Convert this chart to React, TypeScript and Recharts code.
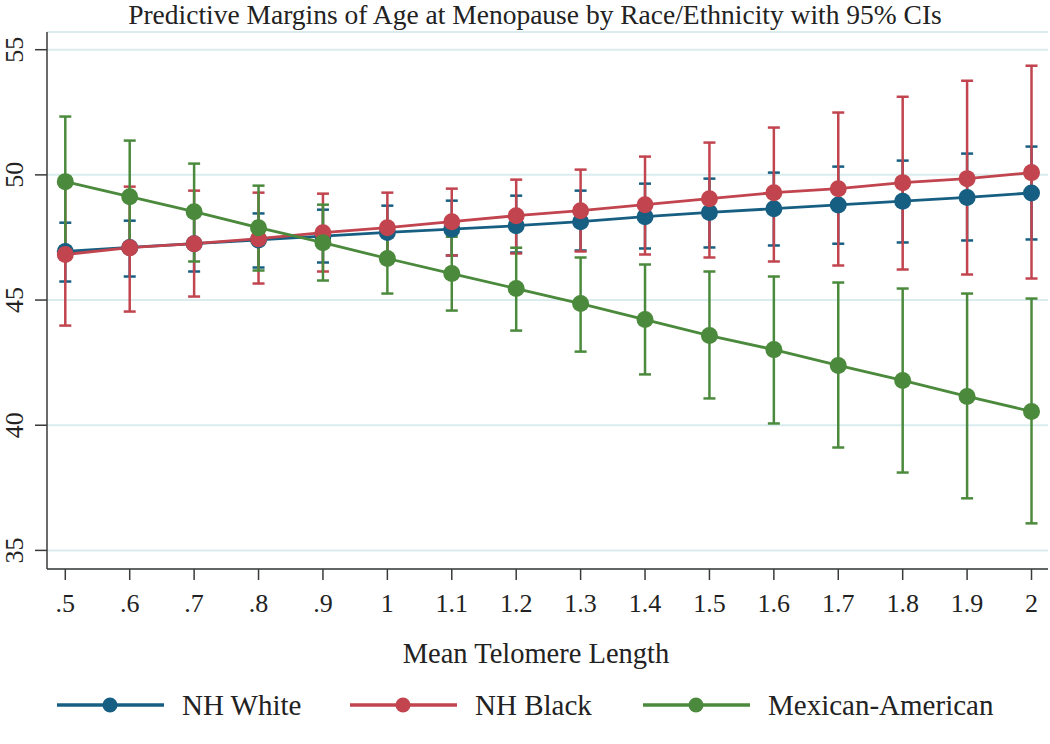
import React from "react";
import { ComposedChart, Line, XAxis, YAxis, CartesianGrid, ErrorBar } from "recharts";

const telomere = [0.5, 0.6, 0.7, 0.8, 0.9, 1.0, 1.1, 1.2, 1.3, 1.4, 1.5, 1.6, 1.7, 1.8, 1.9, 2.0];
const ageTicks = [35, 40, 45, 50, 55];

const whiteMargin = [46.94, 47.1, 47.25, 47.4, 47.55, 47.7, 47.83, 47.97, 48.13, 48.33, 48.5, 48.65, 48.8, 48.95, 49.1, 49.28];
const whiteLower = [45.74, 45.94, 46.14, 46.3, 46.5, 46.63, 46.78, 46.9, 46.98, 47.06, 47.1, 47.18, 47.25, 47.3, 47.38, 47.42];
const whiteUpper = [48.09, 48.17, 48.33, 48.46, 48.61, 48.77, 48.97, 49.17, 49.37, 49.65, 49.85, 50.09, 50.33, 50.57, 50.85, 51.13];

const blackMargin = [46.82, 47.09, 47.25, 47.45, 47.69, 47.89, 48.13, 48.37, 48.57, 48.81, 49.05, 49.29, 49.45, 49.69, 49.85, 50.09];
const blackLower = [43.98, 44.54, 45.14, 45.66, 46.14, 46.49, 46.78, 46.86, 46.94, 46.82, 46.7, 46.54, 46.38, 46.22, 46.02, 45.86];
const blackUpper = [49.66, 49.53, 49.37, 49.29, 49.25, 49.29, 49.45, 49.81, 50.21, 50.73, 51.29, 51.89, 52.49, 53.12, 53.76, 54.36];

const mexMargin = [49.73, 49.13, 48.53, 47.89, 47.29, 46.66, 46.06, 45.46, 44.86, 44.22, 43.58, 43.02, 42.39, 41.79, 41.15, 40.55];
const mexLower = [47.13, 46.89, 46.54, 46.18, 45.78, 45.26, 44.58, 43.78, 42.94, 42.03, 41.07, 40.07, 39.11, 38.11, 37.08, 36.08];
const mexUpper = [52.33, 51.37, 50.45, 49.57, 48.81, 48.06, 47.53, 47.09, 46.7, 46.42, 46.14, 45.94, 45.7, 45.46, 45.26, 45.06];

const seriesNames = ["NH White", "NH Black", "Mexican-American"];
const colors = ["#175f82", "#c1444e", "#4b8a3c"];

const data = telomere.map((t, i) => ({
  t,
  white: whiteMargin[i],
  whiteErr: [whiteMargin[i] - whiteLower[i], whiteUpper[i] - whiteMargin[i]],
  black: blackMargin[i],
  blackErr: [blackMargin[i] - blackLower[i], blackUpper[i] - blackMargin[i]],
  mex: mexMargin[i],
  mexErr: [mexMargin[i] - mexLower[i], mexUpper[i] - mexMargin[i]],
}));

const font = "'Liberation Serif', 'Times New Roman', serif";

const fmtX = (v: number) => {
  const s = v.toFixed(1);
  if (s.endsWith(".0")) return s.slice(0, -2);
  return s.startsWith("0") ? s.slice(1) : s;
};

const XTick = (props: any) => {
  const { x, payload } = props;
  return (
    <text x={x} y={612} textAnchor="middle" fontSize={26} fontFamily={font} fill="#222">
      {fmtX(payload.value)}
    </text>
  );
};

const YTick = (props: any) => {
  const { y, payload } = props;
  return (
    <text x={23} y={y} textAnchor="middle" fontSize={26} fontFamily={font} fill="#222" transform={`rotate(-90, 23, ${y})`}>
      {payload.value}
    </text>
  );
};

const legendX = [57, 350, 643];

export default function App() {
  const keys = ["white", "black", "mex"];
  return (
    <div style={{ position: "absolute", left: 0, top: 0, width: 1050, height: 744, background: "#fff" }}>
      <ComposedChart width={1050} height={744} data={data} margin={{ top: 32, right: 2, bottom: 145, left: 0 }}>
        <CartesianGrid horizontal vertical={false} stroke="#dbecee" strokeWidth={2} />
        <XAxis
          type="number"
          dataKey="t"
          domain={[0.4716, 2.0256]}
          ticks={telomere}
          interval={0}
          allowDataOverflow
          height={30}
          tick={<XTick />}
          tickSize={11}
          stroke="#3a3a3a"
          strokeWidth={1.5}
        />
        <YAxis
          type="number"
          domain={[34.257, 55.707]}
          ticks={ageTicks}
          allowDataOverflow
          width={47}
          tick={<YTick />}
          tickSize={12}
          stroke="#3a3a3a"
          strokeWidth={1.5}
        />
        {keys.map((k, i) => (
          <Line
            key={k}
            dataKey={k}
            stroke={colors[i]}
            strokeWidth={2.8}
            dot={{ r: 8.5, fill: colors[i], stroke: colors[i], strokeWidth: 0 }}
            activeDot={false}
            isAnimationActive={false}
          >
            <ErrorBar dataKey={`${k}Err`} direction="y" width={6} stroke={colors[i]} strokeWidth={2.5} />
          </Line>
        ))}
      </ComposedChart>
      <svg width={1050} height={744} style={{ position: "absolute", left: 0, top: 0, pointerEvents: "none" }}>
        <text x={535} y={24} textAnchor="middle" fontSize={27.5} fontFamily={font} fill="#222">
          Predictive Margins of Age at Menopause by Race/Ethnicity with 95% CIs
        </text>
        <text x={536} y={663} textAnchor="middle" fontSize={28.5} fontFamily={font} fill="#222">
          Mean Telomere Length
        </text>
        {seriesNames.map((name, i) => (
          <g key={name}>
            <line x1={legendX[i]} x2={legendX[i] + 107} y1={705} y2={705} stroke={colors[i]} strokeWidth={3.5} />
            <circle cx={legendX[i] + 53} cy={705} r={7.5} fill={colors[i]} />
            <text x={legendX[i] + 125} y={715} fontSize={29} fontFamily={font} fill="#222">
              {name}
            </text>
          </g>
        ))}
      </svg>
    </div>
  );
}
